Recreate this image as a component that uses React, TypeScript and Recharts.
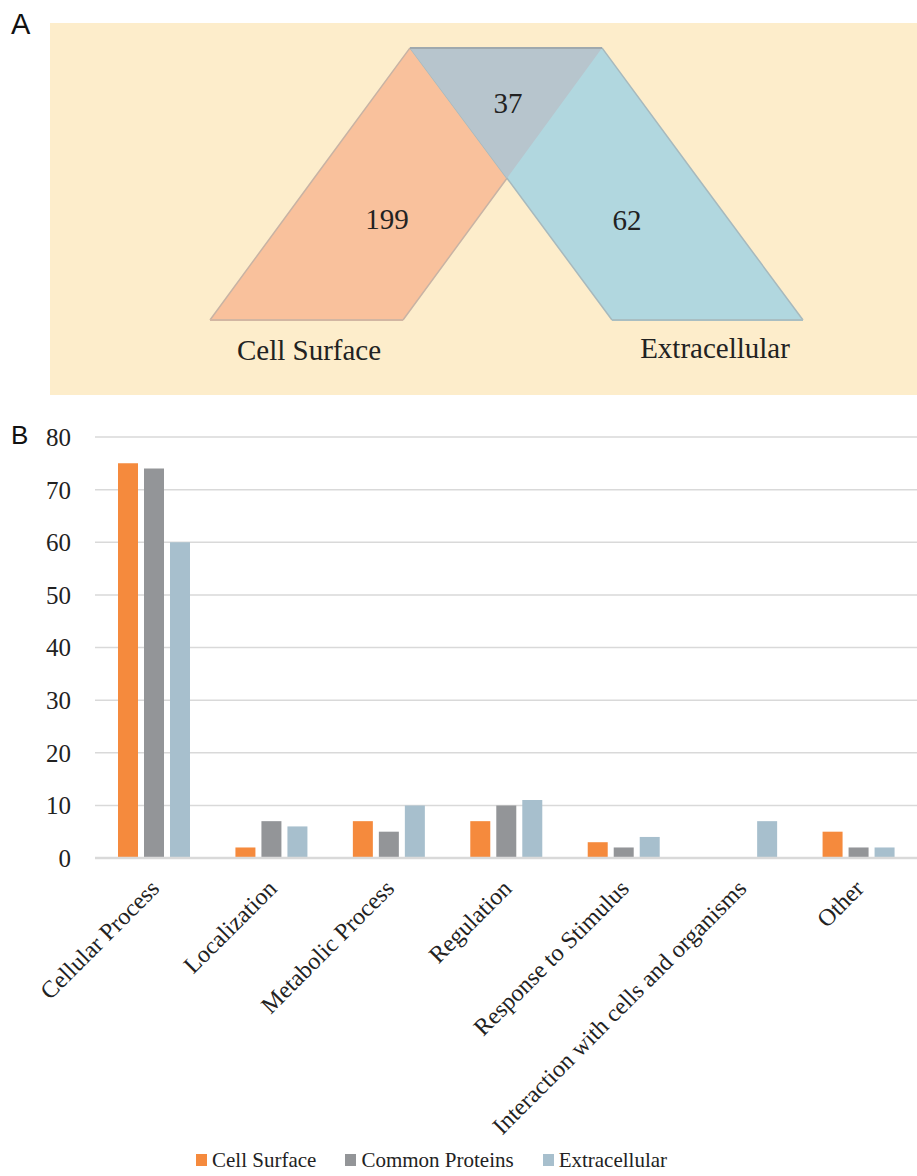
import {
  AreaChart,
  Area,
  BarChart,
  Bar,
  XAxis,
  YAxis,
  CartesianGrid,
  Legend,
  ReferenceDot,
  ReferenceLine,
} from "recharts";

// Panel A: diagram geometry in diagram units (level 0 = bottom edge, 1 = top edge)
const levels = [0, 0.521, 1];
const cellSurfaceLeft = [210, 314, 410];
const cellSurfaceRight = [403, 507, 602];
const extraLeft = [612, 507, 410];
const extraRight = [803, 698, 602];
// the overlap triangle collapses to a zero-width sliver below its apex
const overlapLeft = [507, 507, 410];
const overlapRight = [507, 507, 602];

const vennCounts = [
  { label: "199", x: 387, level: 0.371 },
  { label: "37", x: 508, level: 0.798 },
  { label: "62", x: 627, level: 0.368 },
  { label: "Cell Surface", x: 309, level: -0.11 },
  { label: "Extracellular", x: 715, level: -0.103 },
];

// Panel B
const categories = [
  "Cellular Process",
  "Localization",
  "Metabolic Process",
  "Regulation",
  "Response to Stimulus",
  "Interaction with cells and organisms",
  "Other",
];
const cellSurface = [75, 2, 7, 7, 3, 0, 5];
const commonProteins = [74, 7, 5, 10, 2, 0, 2];
const extracellular = [60, 6, 10, 11, 4, 7, 2];
const yTicks = [0, 10, 20, 30, 40, 50, 60, 70, 80];

const SERIF = "'Liberation Serif', 'Times New Roman', serif";
const SANS = "'Liberation Sans', Arial, sans-serif";

const vennData = levels.map((level, i) => ({
  level,
  cs: [cellSurfaceLeft[i], cellSurfaceRight[i]],
  ex: [extraLeft[i], extraRight[i]],
  ov: [overlapLeft[i], overlapRight[i]],
}));

const barData = categories.map((name, i) => ({
  name,
  cellSurface: cellSurface[i],
  commonProteins: commonProteins[i],
  extracellular: extracellular[i],
}));

function CategoryTick({ x, y, payload }: any) {
  const tx = x + 7;
  const ty = y + 24;
  return (
    <text
      x={tx}
      y={ty}
      transform={`rotate(-45, ${tx}, ${ty})`}
      textAnchor="end"
      fontFamily={SERIF}
      fontSize={24}
      fill="#222"
    >
      {payload.value}
    </text>
  );
}

function LegendContent({ payload }: any) {
  return (
    <div style={{ display: "flex", fontFamily: SERIF, fontSize: 21, lineHeight: "24px", color: "#222" }}>
      {(payload || []).map((p: any) => (
        <div key={p.value} style={{ display: "flex", alignItems: "center", marginRight: 29 }}>
          <span style={{ display: "inline-block", width: 11, height: 12, background: p.color, marginRight: 5 }} />
          {p.value}
        </div>
      ))}
    </div>
  );
}

export default function App() {
  const last = levels.length - 1;
  return (
    <div style={{ position: "absolute", left: 0, top: 0, width: 917, height: 1176, background: "#fff", overflow: "hidden" }}>
      <div style={{ position: "absolute", left: 50, top: 23, width: 867, height: 372, background: "#FDEDCB" }} />
      <div style={{ position: "absolute", left: 11, top: 8, fontFamily: SANS, fontSize: 29, color: "#111" }}>A</div>
      <div style={{ position: "absolute", left: 11, top: 420, fontFamily: SANS, fontSize: 26, color: "#111" }}>B</div>

      <div style={{ position: "absolute", left: 0, top: 0 }}>
        <AreaChart
          width={917}
          height={400}
          data={vennData}
          layout="vertical"
          margin={{ top: 0, right: 0, bottom: 0, left: 0 }}
        >
          <XAxis type="number" domain={[0, 917]} hide />
          <YAxis type="number" dataKey="level" domain={[-0.294, 1.176]} reversed hide />
          <Area
            type="linear"
            dataKey="cs"
            fill="#F9C19C"
            fillOpacity={1}
            stroke="#C8B3A4"
            strokeWidth={1.5}
            dot={false}
            activeDot={false}
            isAnimationActive={false}
          />
          <Area
            type="linear"
            dataKey="ex"
            fill="#B1D7DF"
            fillOpacity={1}
            stroke="#A7B9BD"
            strokeWidth={1.5}
            dot={false}
            activeDot={false}
            isAnimationActive={false}
          />
          <Area
            type="linear"
            dataKey="ov"
            fill="#B7C5CD"
            fillOpacity={1}
            stroke="none"
            dot={false}
            activeDot={false}
            isAnimationActive={false}
          />
          <ReferenceLine
            segment={[
              { x: cellSurfaceLeft[0], y: levels[0] },
              { x: cellSurfaceRight[0], y: levels[0] },
            ]}
            stroke="#D2B6A2"
            strokeWidth={2}
          />
          <ReferenceLine
            segment={[
              { x: extraLeft[0], y: levels[0] },
              { x: extraRight[0], y: levels[0] },
            ]}
            stroke="#A9BEC2"
            strokeWidth={2}
          />
          <ReferenceLine
            segment={[
              { x: overlapLeft[last], y: levels[last] },
              { x: overlapRight[last], y: levels[last] },
            ]}
            stroke="#9FA9AE"
            strokeWidth={2}
          />
          {vennCounts.map((c) => (
            <ReferenceDot
              key={c.label}
              x={c.x}
              y={c.level}
              r={0}
              fill="none"
              stroke="none"
              ifOverflow="visible"
              label={{ value: c.label, position: "center", fontSize: 29, fontFamily: SERIF, fill: "#222" }}
            />
          ))}
        </AreaChart>
      </div>

      <div style={{ position: "absolute", left: 0, top: 400 }}>
        <BarChart
          width={917}
          height={776}
          data={barData}
          barSize={20}
          barGap={6}
          margin={{ top: 37, right: 0, bottom: 0, left: 0 }}
        >
          <CartesianGrid vertical={false} stroke="#D9D9D9" strokeWidth={1.5} />
          <XAxis
            dataKey="name"
            interval={0}
            height={318}
            tickLine={false}
            axisLine={{ stroke: "#D9D9D9", strokeWidth: 2.5 }}
            tick={<CategoryTick />}
          />
          <YAxis
            width={95}
            domain={[0, 80]}
            ticks={yTicks}
            axisLine={false}
            tickLine={false}
            tickSize={0}
            tickMargin={24}
            tick={{ fontFamily: SERIF, fontSize: 25, fill: "#222" }}
          />
          <Legend
            layout="horizontal"
            verticalAlign="middle"
            align="center"
            wrapperStyle={{ top: 748, left: 196, width: 700 }}
            content={<LegendContent />}
          />
          <Bar dataKey="cellSurface" name="Cell Surface" fill="#F58A3D" isAnimationActive={false} />
          <Bar dataKey="commonProteins" name="Common Proteins" fill="#939598" isAnimationActive={false} />
          <Bar dataKey="extracellular" name="Extracellular" fill="#A7BFCD" isAnimationActive={false} />
        </BarChart>
      </div>
    </div>
  );
}
